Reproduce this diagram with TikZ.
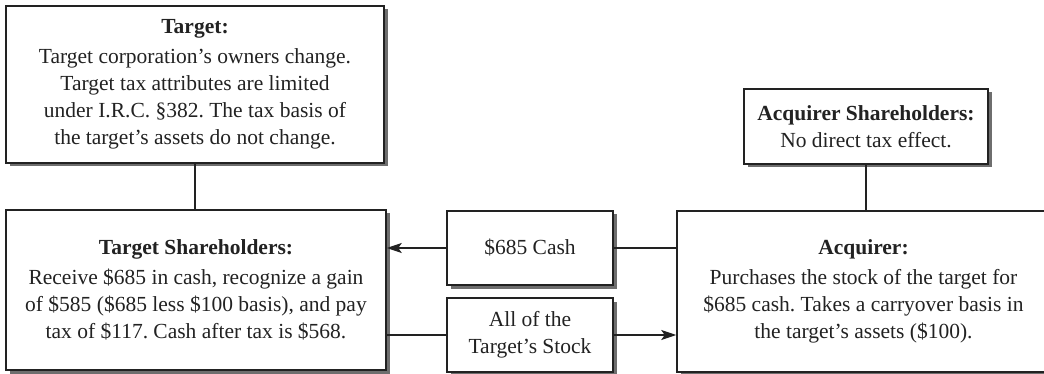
\documentclass[tikz,border=0pt]{standalone}
\usepackage{fontspec}
\setmainfont{Liberation Serif}
\frenchspacing
\usetikzlibrary{shadows,arrows.meta}
\definecolor{ink}{HTML}{222222}
\definecolor{shade}{HTML}{6E6E6E}
\tikzset{
  panel/.style={draw=ink, line width=1.5pt, fill=white, inner sep=0pt,
    align=center, text=ink, font=\fontsize{21.5}{27}\selectfont,
    drop shadow={shadow xshift=3.5pt, shadow yshift=-3.5pt, fill=shade, opacity=1}},
  link/.style={draw=ink, line width=1.8pt},
  flow/.style={link, -{Stealth[length=15pt,width=10pt,inset=3.5pt]}}
}
\begin{document}
\begin{tikzpicture}[x=1pt,y=1pt]
\useasboundingbox (0,0) rectangle (1044,-374);
\fill[white] (0,0) rectangle (1044,-374);
\begin{scope}
\clip (0,0) rectangle (1044,-374);
\node[panel, minimum width=378pt, minimum height=157pt] (target) at (195,-84.5)
  {\textbf{Target:}\\[3pt]Target corporation’s owners change.\\Target tax attributes are limited\\under I.R.C. §382. The tax basis of\\the target’s assets do not change.};
\node[panel, minimum width=380pt, minimum height=160pt] (ts) at (196,-290)
  {\textbf{Target Shareholders:}\\[3pt]Receive \$685 in cash, recognize a gain\\of \$585 (\$685 less \$100 basis), and pay\\tax of \$117. Cash after tax is \$568.};
\node[panel, minimum width=166pt, minimum height=74pt] (cash) at (530,-248)
  {\$685 Cash};
\node[panel, minimum width=166pt, minimum height=74pt] (stock) at (530,-335)
  {All of the\\Target’s Stock};
\node[panel, minimum width=373pt, minimum height=161pt] (acq) at (863.5,-291.5)
  {\textbf{Acquirer:}\\[3pt]Purchases the stock of the target for\\\$685 cash. Takes a carryover basis in\\the target’s assets (\$100).};
\node[panel, minimum width=244pt, minimum height=75pt] (acqsh) at (866,-126.5)
  {\textbf{Acquirer Shareholders:}\\No direct tax effect.};
\end{scope}
% ownership links
\draw[link] (target.south) -- (target.south |- ts.north);
\draw[link] (acqsh.south) -- (acqsh.south |- acq.north);
% cash flows to the target shareholders
\draw[link] (acq.west |- cash.east) -- (cash.east);
\draw[flow] (cash.west) -- (ts.east |- cash.west);
% stock flows to the acquirer
\draw[link] (ts.east |- stock.west) -- (stock.west);
\draw[flow] (stock.east) -- (acq.west |- stock.east);
\end{tikzpicture}
\end{document}
